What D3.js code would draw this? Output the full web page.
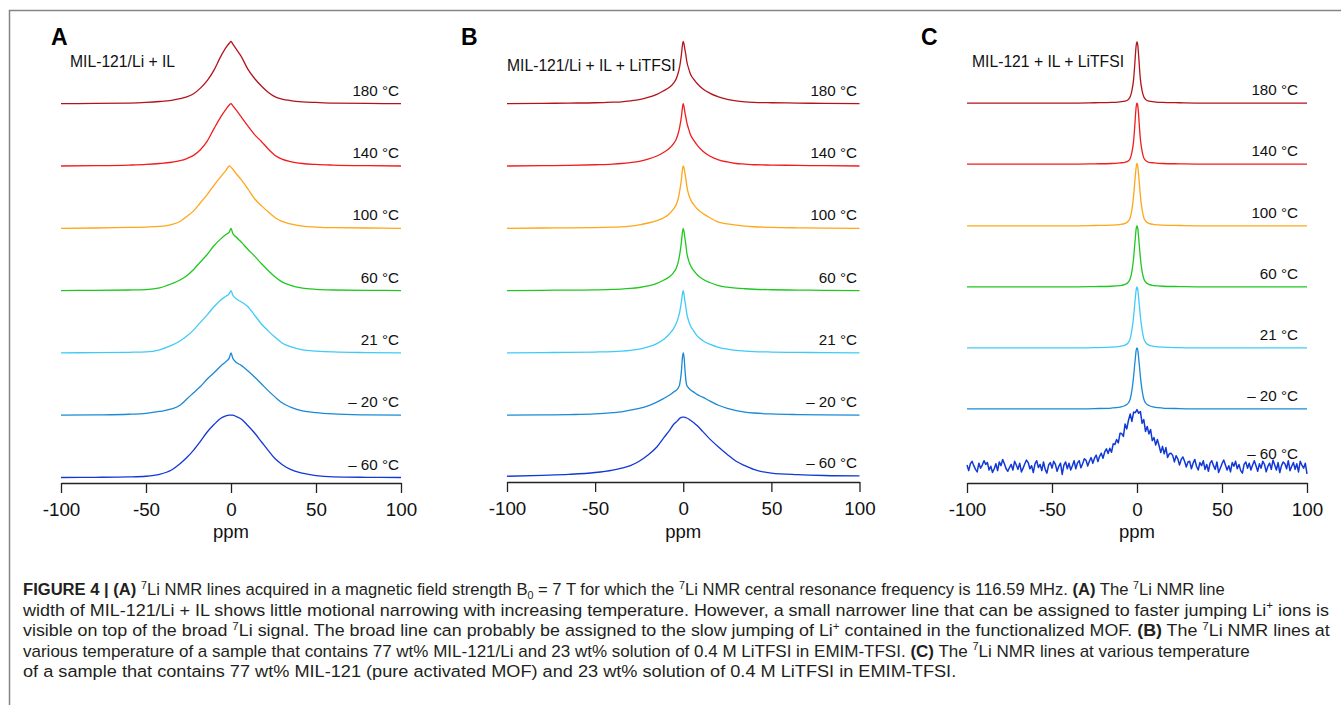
<!DOCTYPE html>
<html><head><meta charset="utf-8">
<script src="https://cdn.jsdelivr.net/npm/d3@7"></script>
<style>html,body{margin:0;padding:0;background:#fff;} svg{display:block;}</style>
</head><body>
<svg id="chart" width="1341" height="705"></svg>
<script>
// ---------------- DATA ----------------
const temps = ["180 °C", "140 °C", "100 °C", "60 °C", "21 °C", "– 20 °C", "– 60 °C"];
const colors = ["#b3141c", "#f21c1c", "#ffa619", "#1fc81f", "#40cbf7", "#1a8ad6", "#1238d6"];
const xTicks = [-100, -50, 0, 50, 100];
const panelLetters = ["A", "B", "C"];
const panelTitles = ["MIL-121/Li + IL", "MIL-121/Li + IL + LiTFSI", "MIL-121 + IL + LiTFSI"];
const xTitle = "ppm";

// Panel A (MIL-121/Li + IL) — normalised intensity
const ppmA = [-100,-80,-60,-50,-42,-35,-30,-26,-22,-18,-14,-10,-6,-3,-1,0,1,3,6,10,14,18,22,26,30,35,42,50,60,80,100];
const a180 = [0,0.005,0.01,0.02,0.035,0.055,0.08,0.11,0.16,0.25,0.37,0.54,0.76,0.9,0.97,1.0,0.96,0.88,0.76,0.55,0.4,0.28,0.18,0.11,0.075,0.05,0.03,0.02,0.01,0.005,0];
const a140 = [0,0.005,0.015,0.025,0.04,0.06,0.085,0.12,0.17,0.26,0.4,0.6,0.79,0.91,0.98,1,0.97,0.9,0.79,0.64,0.5,0.39,0.27,0.17,0.11,0.07,0.04,0.025,0.015,0.005,0];
const a100 = [0,0.005,0.015,0.02,0.03,0.06,0.11,0.19,0.28,0.41,0.54,0.69,0.83,0.93,1.0,0.98,0.95,0.88,0.78,0.63,0.47,0.36,0.26,0.17,0.11,0.07,0.035,0.02,0.01,0.005,0];
const a60  = [0,0.005,0.01,0.017,0.045,0.11,0.17,0.24,0.34,0.46,0.58,0.72,0.83,0.9,0.94,1,0.92,0.86,0.78,0.66,0.55,0.43,0.32,0.22,0.14,0.085,0.04,0.02,0.01,0.005,0];
const a21  = [0,0.005,0.01,0.016,0.05,0.12,0.19,0.27,0.37,0.49,0.61,0.74,0.85,0.91,0.95,1,0.93,0.87,0.82,0.74,0.6,0.46,0.35,0.25,0.16,0.1,0.05,0.03,0.015,0.005,0];
const am20 = [0,0.005,0.015,0.03,0.06,0.1,0.16,0.26,0.36,0.46,0.58,0.68,0.79,0.86,0.92,1,0.92,0.85,0.8,0.71,0.61,0.5,0.39,0.29,0.2,0.13,0.07,0.04,0.02,0.005,0];
const am60 = [0,0.003,0.01,0.02,0.05,0.12,0.22,0.32,0.44,0.58,0.73,0.85,0.95,0.99,1,1,1,0.98,0.94,0.83,0.71,0.57,0.43,0.3,0.21,0.13,0.07,0.03,0.01,0.003,0];
const offsetsA = [6, 5, 4, 3, 2, 1, 0];

// Panel B (MIL-121/Li + IL + LiTFSI)
const ppmB = [-100,-80,-65,-50,-40,-35,-30,-25,-20,-15,-11,-8,-5.5,-4,-3,-2,-1,-0.5,0,0.5,1,1.5,2,3,4,6,8,11,15,20,25,30,35,40,50,65,80,100];
const b180 = [0,0.005,0.01,0.015,0.025,0.03,0.045,0.065,0.1,0.15,0.21,0.26,0.33,0.4,0.48,0.6,0.8,0.93,1,0.95,0.86,0.78,0.68,0.57,0.48,0.39,0.32,0.24,0.17,0.11,0.07,0.045,0.03,0.022,0.015,0.01,0.005,0];
const b140 = [0,0.005,0.01,0.02,0.03,0.04,0.055,0.075,0.11,0.16,0.22,0.28,0.36,0.43,0.51,0.63,0.8,0.93,1,0.94,0.85,0.78,0.7,0.6,0.51,0.41,0.33,0.24,0.16,0.1,0.065,0.04,0.03,0.02,0.015,0.01,0.005,0];
const b100 = [0,0.005,0.008,0.012,0.018,0.022,0.035,0.055,0.085,0.125,0.17,0.23,0.31,0.38,0.46,0.6,0.8,0.94,1,0.96,0.88,0.79,0.68,0.55,0.47,0.38,0.31,0.24,0.17,0.1,0.07,0.05,0.035,0.025,0.015,0.008,0.004,0];
const b60  = [0,0.005,0.008,0.012,0.02,0.025,0.035,0.05,0.075,0.115,0.17,0.22,0.29,0.36,0.44,0.58,0.79,0.93,1,0.93,0.83,0.73,0.61,0.49,0.41,0.32,0.25,0.185,0.13,0.08,0.055,0.04,0.03,0.022,0.014,0.008,0.004,0];
const b21  = [0,0.005,0.008,0.014,0.022,0.03,0.042,0.06,0.095,0.15,0.22,0.3,0.39,0.47,0.55,0.66,0.83,0.94,1,0.92,0.82,0.73,0.63,0.52,0.44,0.35,0.27,0.2,0.14,0.09,0.06,0.04,0.03,0.022,0.014,0.008,0.004,0];
const bm20 = [0,0.005,0.01,0.02,0.04,0.055,0.08,0.11,0.15,0.21,0.27,0.32,0.37,0.4,0.43,0.5,0.72,0.92,1,0.92,0.72,0.56,0.48,0.44,0.41,0.37,0.33,0.29,0.23,0.16,0.11,0.075,0.05,0.035,0.02,0.01,0.005,0];
const bm60 = [0,0.015,0.03,0.06,0.1,0.13,0.17,0.24,0.34,0.47,0.62,0.73,0.83,0.87,0.9,0.93,0.945,0.95,0.95,0.95,0.945,0.94,0.935,0.92,0.9,0.86,0.81,0.72,0.6,0.47,0.35,0.24,0.17,0.11,0.05,0.025,0.012,0.005];
const offsetsB = [6, 5, 4, 3, 2, 1, 0.02];

// Panel C (MIL-121 + IL + LiTFSI)
const ppmC = [-100,-80,-60,-40,-25,-15,-10,-7,-5,-4,-3,-2,-1.5,-1,-0.5,0,0.5,1,1.5,2,3,4,5,7,10,15,25,40,60,80,100];
const c180 = [0,0,0,0,0.005,0.01,0.02,0.03,0.06,0.1,0.2,0.38,0.55,0.75,0.92,0.98,0.92,0.75,0.55,0.38,0.2,0.1,0.06,0.03,0.02,0.01,0.005,0,0,0,0];
const c140 = [0,0,0,0,0.005,0.01,0.02,0.03,0.055,0.09,0.19,0.37,0.54,0.74,0.92,0.98,0.93,0.77,0.57,0.4,0.21,0.1,0.06,0.03,0.02,0.01,0.005,0,0,0,0];
const c100 = [0,0,0,0,0.005,0.01,0.02,0.04,0.08,0.13,0.26,0.48,0.64,0.8,0.94,1,0.94,0.8,0.64,0.48,0.26,0.13,0.08,0.04,0.02,0.01,0.005,0,0,0,0];
const c60  = [0,0,0,0,0.005,0.01,0.02,0.04,0.08,0.13,0.25,0.46,0.62,0.78,0.93,0.98,0.93,0.78,0.62,0.46,0.25,0.13,0.08,0.04,0.02,0.01,0.005,0,0,0,0];
const c21  = [0,0,0,0,0.005,0.012,0.025,0.045,0.09,0.15,0.29,0.5,0.65,0.8,0.93,0.98,0.93,0.8,0.65,0.5,0.29,0.15,0.09,0.045,0.025,0.012,0.005,0,0,0,0];
const cm20 = [0,0,0,0,0.006,0.015,0.03,0.055,0.1,0.16,0.3,0.52,0.67,0.81,0.94,0.98,0.94,0.81,0.67,0.52,0.3,0.16,0.1,0.055,0.03,0.015,0.006,0,0,0,0];
// –60 °C in panel C is noisy: read at every 1 ppm from -100 to 100
const ppmCm60Start = -100, ppmCm60Step = 1;
const cm60 = [
 0.03,-0.06,0.05,0.09,0.02,-0.04,-0.08,0.06,-0.02,0.03,
 0.1,0.04,0.07,-0.05,0.01,-0.09,-0.03,0.05,-0.06,0.08,
 0.02,0.12,0.05,-0.03,-0.07,-0.01,0.04,-0.05,0.09,0.03,
 -0.04,0.06,-0.08,-0.02,0.05,0.11,0.07,-0.03,0.02,-0.09,
 0.05,0.1,-0.01,0.04,-0.06,0.08,-0.04,-0.1,0.03,0.07,
 -0.02,0.09,0.04,-0.07,0.01,0.06,-0.12,0.03,0.08,-0.03,
 0.06,-0.05,0.02,0.1,-0.03,0.065,0.1,-0.015,0.05,0.13,
 0.11,0.015,0.09,0.15,0.06,0.14,0.19,0.085,0.17,0.22,
 0.14,0.24,0.29,0.215,0.3,0.235,0.37,0.36,0.44,0.385,
 0.54,0.535,0.49,0.69,0.61,0.75,0.85,0.73,0.88,0.87,
 0.92,
 0.86,0.89,0.7,0.76,0.57,0.65,0.53,0.6,0.42,0.47,
 0.35,0.44,0.34,0.23,0.33,0.21,0.31,0.15,0.21,0.22,
 0.185,0.08,0.18,0.13,0.03,0.12,0.16,0.09,0.0,0.08,
 0.09,-0.03,0.06,0.12,0.01,-0.05,0.07,0.02,0.1,-0.04,
 0.04,-0.07,0.06,0.1,0.02,-0.04,0.08,-0.09,-0.02,0.05,
 0.11,0.03,-0.05,0.02,-0.08,0.07,0.01,0.09,-0.03,0.04,
 -0.06,-0.1,0.04,0.08,-0.02,0.06,-0.05,0.03,0.1,0.02,
 -0.07,0.05,-0.02,0.09,0.04,-0.08,0.01,0.06,-0.04,0.11,
 0.03,-0.05,0.07,-0.09,0.02,0.08,0.05,-0.03,0.1,-0.06,
 0.01,0.07,-0.04,0.05,-0.08,0.09,0.03,-0.02,0.06,-0.11
];
const offsetsC = [6.01, 5.03, 4.04, 3.06, 2.08, 1.10, 0.17];

// Caption
const captionLines = [
 [["b","FIGURE 4 | (A)"],["n"," "],["sup","7"],["n","Li NMR lines acquired in a magnetic field strength B"],["sub","0"],["n"," = 7 T for which the "],["sup","7"],["n","Li NMR central resonance frequency is 116.59 MHz. "],["b","(A)"],["n"," The "],["sup","7"],["n","Li NMR line"]],
 [["n","width of MIL-121/Li + IL shows little motional narrowing with increasing temperature. However, a small narrower line that can be assigned to faster jumping Li"],["sup","+"],["n"," ions is"]],
 [["n","visible on top of the broad "],["sup","7"],["n","Li signal. The broad line can probably be assigned to the slow jumping of Li"],["sup","+"],["n"," contained in the functionalized MOF. "],["b","(B)"],["n"," The "],["sup","7"],["n","Li NMR lines at"]],
 [["n","various temperature of a sample that contains 77 wt% MIL-121/Li and 23 wt% solution of 0.4 M LiTFSI in EMIM-TFSI. "],["b","(C)"],["n"," The "],["sup","7"],["n","Li NMR lines at various temperature"]],
 [["n","of a sample that contains 77 wt% MIL-121 (pure activated MOF) and 23 wt% solution of 0.4 M LiTFSI in EMIM-TFSI."]]
];

// ---------------- DRAWING ----------------
const FONT = "'Liberation Sans', Arial, Helvetica, sans-serif";
const svg = d3.select("#chart");
svg.append("rect").attr("width", 1341).attr("height", 705).attr("fill", "#fff");

// frame
svg.append("path").attr("d", "M9.5,705V10.5H1341").attr("fill", "none")
  .attr("stroke", "#858585").attr("stroke-width", 1.5);

const y = d3.scaleLinear().domain([0, 6]).range([477.5, 103.7]);

const layout = [
  {x0: 61, x1: 401, axisY: 483, letterX: 51, titleX: 70, titleY: 67, labelX: 399},
  {x0: 507, x1: 859.5, axisY: 482, letterX: 461, titleX: 507, titleY: 71, labelX: 857},
  {x0: 967, x1: 1307, axisY: 483, letterX: 921, titleX: 972, titleY: 67, labelX: 1298}
];

const cm60ppm = d3.range(cm60.length).map(i => ppmCm60Start + i * ppmCm60Step);
const panels = [
  {series: [a180, a140, a100, a60, a21, am20, am60].map(v => ({ppm: ppmA, v, curve: d3.curveMonotoneX, w: 1.3})), offsets: offsetsA},
  {series: [b180, b140, b100, b60, b21, bm20, bm60].map(v => ({ppm: ppmB, v, curve: d3.curveMonotoneX, w: 1.3})), offsets: offsetsB},
  {series: [c180, c140, c100, c60, c21, cm20].map(v => ({ppm: ppmC, v, curve: d3.curveMonotoneX, w: 1.3}))
      .concat([{ppm: cm60ppm, v: cm60, curve: d3.curveLinear, w: 1.5}]), offsets: offsetsC}
];

panels.forEach((p, pi) => {
  const L = layout[pi];
  const x = d3.scaleLinear().domain([-100, 100]).range([L.x0, L.x1]);
  const g = svg.append("g");

  g.append("text").attr("x", L.letterX).attr("y", 45)
    .attr("font-family", FONT).attr("font-weight", "bold").attr("font-size", 23)
    .attr("fill", "#000").text(panelLetters[pi]);
  g.append("text").attr("x", L.titleX).attr("y", L.titleY)
    .attr("font-family", FONT).attr("font-size", 15.7)
    .attr("fill", "#111").text(panelTitles[pi]);

  p.series.forEach((s, si) => {
    const off = p.offsets[si];
    const pts = s.ppm.map((q, k) => [q, s.v[k]]);
    const line = d3.line().x(d => x(d[0])).y(d => y(off + d[1])).curve(s.curve);
    g.append("path").attr("d", line(pts)).attr("fill", "none")
      .attr("stroke", colors[si]).attr("stroke-width", s.w)
      .attr("stroke-linejoin", "round");
    g.append("text").attr("x", L.labelX).attr("y", y(off) - 8)
      .attr("text-anchor", "end").attr("font-family", FONT).attr("font-size", 15.2)
      .attr("fill", "#111").text(temps[si]);
  });

  const ax = g.append("g").attr("transform", `translate(0,${L.axisY})`)
    .call(d3.axisBottom(x).tickValues(xTicks).tickFormat(d => String(d))
      .tickSize(10).tickSizeOuter(0).tickPadding(10));
  ax.select(".domain").attr("stroke", "#222").attr("stroke-width", 1.3);
  ax.selectAll(".tick line").attr("stroke", "#222").attr("stroke-width", 1.3);
  ax.selectAll(".tick text").attr("font-family", FONT).attr("font-size", 18.8)
    .attr("fill", "#111");
  g.append("text").attr("x", x(0)).attr("y", 538).attr("text-anchor", "middle")
    .attr("font-family", FONT).attr("font-size", 18.5).attr("fill", "#111").text(xTitle);
});

// caption
const capLeft = 23;
const capBase = [595, 615.5, 636, 656.5, 677];
const capRight = [1226, 1330, 1331, 1250, 957];
captionLines.forEach((segs, li) => {
  const g = svg.append("g");
  const t = g.append("text").attr("x", 0).attr("y", 0)
    .attr("font-family", FONT).attr("font-size", 17).attr("fill", "#231f20");
  let shift = 0;
  segs.forEach(([kind, txt]) => {
    const ts = t.append("tspan").text(txt);
    let target = 0;
    if (kind === "sup") target = -6.5;
    if (kind === "sub") target = 4;
    if (target !== shift) { ts.attr("dy", target - shift); shift = target; }
    if (kind === "sup" || kind === "sub") ts.attr("font-size", 11);
    if (kind === "b") ts.attr("font-weight", "bold");
  });
  const w = t.node().getComputedTextLength();
  const sx = (capRight[li] - capLeft) / w;
  g.attr("transform", `translate(${capLeft},${capBase[li]}) scale(${sx},1)`);
});
</script>
</body></html>
